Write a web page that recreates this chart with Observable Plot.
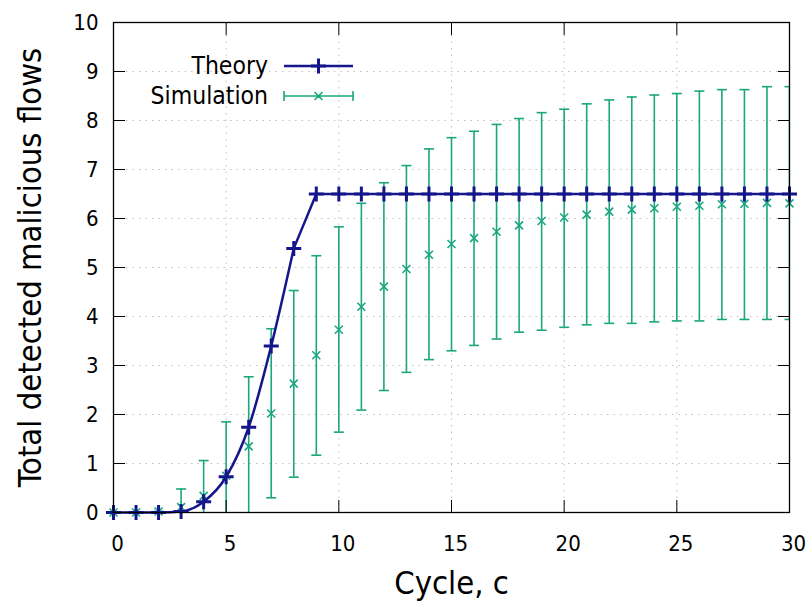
<!DOCTYPE html>
<html>
<head>
<meta charset="utf-8">
<script src="https://cdn.jsdelivr.net/npm/d3@7"></script>
<script src="https://cdn.jsdelivr.net/npm/@observablehq/plot@0.6"></script>
<style>
  html, body { margin: 0; padding: 0; background: #fff; }
  #chart { width: 809px; height: 605px; }
</style>
</head>
<body>
<div id="chart"></div>
<script>
// ---- data ----
const cycles = [0,1,2,3,4,5,6,7,8,9,10,11,12,13,14,15,16,17,18,19,20,21,22,23,24,25,26,27,28,29,30];
const theory = [0,0,0,0.02,0.22,0.73,1.74,3.40,5.39,6.5,6.5,6.5,6.5,6.5,6.5,6.5,6.5,6.5,6.5,6.5,6.5,6.5,6.5,6.5,6.5,6.5,6.5,6.5,6.5,6.5,6.5];
const simMean = [0,0,0.02,0.11,0.34,0.75,1.35,2.02,2.63,3.21,3.73,4.20,4.61,4.97,5.26,5.48,5.60,5.73,5.86,5.95,6.02,6.08,6.14,6.18,6.21,6.24,6.26,6.29,6.30,6.32,6.31];
const simLow  = [0,0,0.02,-0.26,-0.38,-0.35,-0.07,0.30,0.72,1.17,1.64,2.09,2.49,2.86,3.12,3.30,3.41,3.54,3.68,3.72,3.78,3.83,3.86,3.86,3.89,3.91,3.91,3.94,3.94,3.94,3.94];
const simHigh = [0,0,0.02,0.48,1.06,1.85,2.77,3.75,4.53,5.24,5.83,6.31,6.73,7.08,7.42,7.65,7.78,7.92,8.04,8.16,8.23,8.34,8.42,8.48,8.52,8.55,8.60,8.63,8.63,8.69,8.69];
const xTicks = [0,5,10,15,20,25,30];
const yTicks = [0,1,2,3,4,5,6,7,8,9,10];
const seriesNames = ["Theory", "Simulation"];
const xLabel = "Cycle, c";
const yLabel = "Total detected malicious flows";

// ---- build tables ----
const theoryData = cycles.map((c, i) => ({c, v: theory[i]}));
const simData = cycles.map((c, i) => ({c, m: simMean[i], lo: simLow[i], hi: simHigh[i]}));

const NAVY = "#16168c";
const GREEN = "#1aa67f";
const FONT = "'DejaVu Sans Condensed', 'DejaVu Sans', sans-serif";

const plusSym = { draw(ctx, size) { const r = Math.sqrt(size / Math.PI); ctx.moveTo(-r, 0); ctx.lineTo(r, 0); ctx.moveTo(0, -r); ctx.lineTo(0, r); } };
const timesSym = { draw(ctx, size) { const r = Math.sqrt(size / Math.PI); ctx.moveTo(-r, -r); ctx.lineTo(r, r); ctx.moveTo(-r, r); ctx.lineTo(r, -r); } };
const capSym = { draw(ctx, size) { const r = Math.sqrt(size / Math.PI); ctx.moveTo(-r, 0); ctx.lineTo(r, 0); } };

function legend(index, scales, values, dims) {
  const g = d3.create("svg:g").attr("font-family", FONT);
  const x0 = dims.marginLeft, y0 = dims.marginTop;
  const textX = x0 + 155, lx1 = x0 + 171, lx2 = x0 + 240, lm = (lx1 + lx2) / 2;
  const rows = [y0 + 44, y0 + 74];
  seriesNames.forEach((name, i) => {
    g.append("text").attr("x", textX).attr("y", rows[i]).attr("dy", "0.32em")
      .attr("text-anchor", "end").attr("font-size", 24.5).attr("fill", "#000").text(name);
  });
  // Theory sample
  g.append("line").attr("x1", lx1).attr("x2", lx2).attr("y1", rows[0]).attr("y2", rows[0])
    .attr("stroke", NAVY).attr("stroke-width", 2.5);
  g.append("path").attr("d", `M${lm-7.5},${rows[0]}h15M${lm},${rows[0]-7.5}v15`)
    .attr("stroke", NAVY).attr("stroke-width", 3).attr("fill", "none");
  // Simulation sample (error bar)
  g.append("path").attr("d", `M${lx1},${rows[1]}H${lx2}M${lx1},${rows[1]-5}v10M${lx2},${rows[1]-5}v10M${lm-4},${rows[1]-4}l8,8M${lm-4},${rows[1]+4}l8,-8`)
    .attr("stroke", GREEN).attr("stroke-width", 1.6).attr("fill", "none");
  return g.node();
}

const chart = Plot.plot({
  width: 809,
  height: 605,
  marginLeft: 113,
  marginRight: 20,
  marginTop: 22,
  marginBottom: 93,
  style: { fontFamily: FONT, background: "#fff", color: "#000" },
  x: { domain: [0, 30] },
  y: { domain: [0, 10] },
  marks: [
    Plot.gridX(xTicks, { stroke: "#c0c0c0", strokeOpacity: 1, strokeDasharray: "1.5,5" }),
    Plot.gridY(yTicks, { stroke: "#c0c0c0", strokeOpacity: 1, strokeDasharray: "1.5,5" }),
    // error bars
    Plot.ruleX(simData, { x: "c", y1: "lo", y2: "hi", stroke: GREEN, strokeWidth: 1.6, clip: true }),
    Plot.dot(simData, { x: "c", y: "lo", symbol: capSym, r: 5, stroke: GREEN, strokeWidth: 1.6, fill: "none", clip: true }),
    Plot.dot(simData, { x: "c", y: "hi", symbol: capSym, r: 5, stroke: GREEN, strokeWidth: 1.6, fill: "none", clip: true }),
    Plot.dot(simData, { x: "c", y: "m", symbol: timesSym, r: 4, stroke: GREEN, strokeWidth: 1.6, fill: "none" }),
    // theory
    Plot.line(theoryData.filter(d => d.c <= 8), { x: "c", y: "v", curve: "monotone-x", stroke: NAVY, strokeWidth: 2.5 }),
    Plot.line(theoryData.filter(d => d.c >= 8), { x: "c", y: "v", stroke: NAVY, strokeWidth: 2.5 }),
    Plot.dot(theoryData, { x: "c", y: "v", symbol: plusSym, r: 7.5, stroke: NAVY, strokeWidth: 3, fill: "none" }),
    // axes: labels
    Plot.axisX(xTicks, { anchor: "bottom", tickSize: 0, tickPadding: 23, dx: 4, fontSize: 22, label: null, tickFormat: d => String(d) }),
    Plot.axisY(yTicks, { anchor: "left", tickSize: 0, tickPadding: 15, fontSize: 22, label: null, tickFormat: d => String(d) }),
    // inward ticks on all four sides
    Plot.axisX(xTicks, { anchor: "bottom", tickSize: -12, fill: "none", label: null }),
    Plot.axisX(xTicks, { anchor: "top", tickSize: -12, fill: "none", label: null }),
    Plot.axisY(yTicks, { anchor: "left", tickSize: -12, fill: "none", label: null }),
    Plot.axisY(yTicks, { anchor: "right", tickSize: -12, fill: "none", label: null }),
    Plot.frame({ stroke: "#000", strokeWidth: 1.3 }),
    // axis titles
    Plot.text([xLabel], { frameAnchor: "bottom", dy: 81, fontSize: 32.5, fill: "#000", textAnchor: "middle" }),
    Plot.text([yLabel], { frameAnchor: "left", dx: -83, rotate: -90, fontSize: 32.5, fill: "#000", textAnchor: "middle" }),
    legend
  ]
});
document.getElementById("chart").appendChild(chart);
</script>
</body>
</html>
